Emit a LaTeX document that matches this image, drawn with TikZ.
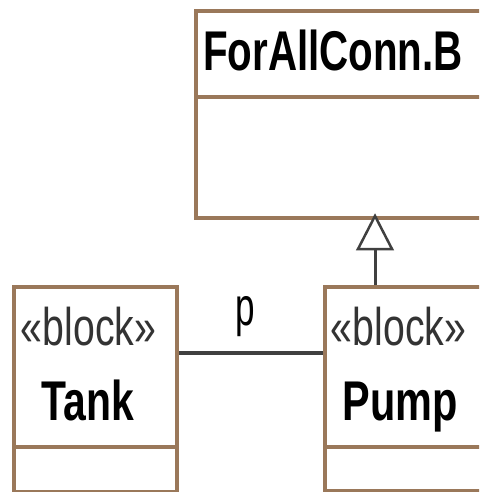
\documentclass[tikz,border=0pt]{standalone}
\usepackage{fontspec}
\setmainfont{Liberation Sans}
\definecolor{boxbrown}{RGB}{154,120,90}
\definecolor{linegray}{RGB}{64,64,64}
\tikzset{
  blockbox/.style={draw=boxbrown, line width=4pt, fill=white, rectangle, inner sep=0pt, anchor=north west},
  divider/.style={draw=boxbrown, line width=4pt},
  conn/.style={draw=linegray, line width=4.5pt},
  genline/.style={draw=linegray, line width=3pt},
  titletxt/.style={inner sep=0pt, anchor=base, font=\bfseries\fontsize{56}{60}\selectfont},
  sttxt/.style={inner sep=0pt, anchor=base, font=\fontsize{53}{60}\selectfont, text=black!80},
  lbltxt/.style={inner sep=0pt, anchor=base, font=\fontsize{54}{60}\selectfont}
}
\begin{document}
\begin{tikzpicture}[x=1pt,y=-1pt]
\useasboundingbox (0,0) rectangle (479,492);
\clip (0,0) rectangle (479,492);
\fill[white] (0,0) rectangle (479,492);
% boxes
\node[blockbox, minimum width=320pt, minimum height=207pt] (forall) at (194,9) {};
\node[blockbox, minimum width=163pt, minimum height=205pt] (tank) at (12,285) {};
\node[blockbox, minimum width=200pt, minimum height=204pt] (pump) at (323,285) {};
% dividers
\draw[divider] (forall.west |- 0,97) -- (forall.east |- 0,97);
\draw[divider] (tank.west |- 0,447) -- (tank.east |- 0,447);
\draw[divider] (pump.west |- 0,447) -- (pump.east |- 0,447);
% texts
\node[titletxt] (ftitle) at (333,71) {\scalebox{0.72}[1]{ForAllConn.B}};
\node[sttxt] (tst) at (88.5,345) {\scalebox{0.74}[1]{«block»}};
\node[titletxt] (ttitle) at (88,420) {\scalebox{0.73}[1]{Tank}};
\node[sttxt] (pst) at (398.5,345) {\scalebox{0.74}[1]{«block»}};
\node[titletxt] (ptitle) at (400.5,420) {\scalebox{0.74}[1]{Pump}};
% connector
\draw[conn] (tank.east |- 0,353) -- (pump.west |- 0,353);
\node[lbltxt] (plbl) at (245.5,325) {\scalebox{0.65}[1]{p}};
% generalization
\coordinate (apex) at (375,216);
\coordinate (tbase) at (375,249);
\draw[genline] (pump.north -| apex) -- (tbase);
\draw[draw=linegray, line width=2.5pt, fill=white, line join=miter] (apex) -- (358,249) -- (392,249) -- cycle;
\end{tikzpicture}
\end{document}
